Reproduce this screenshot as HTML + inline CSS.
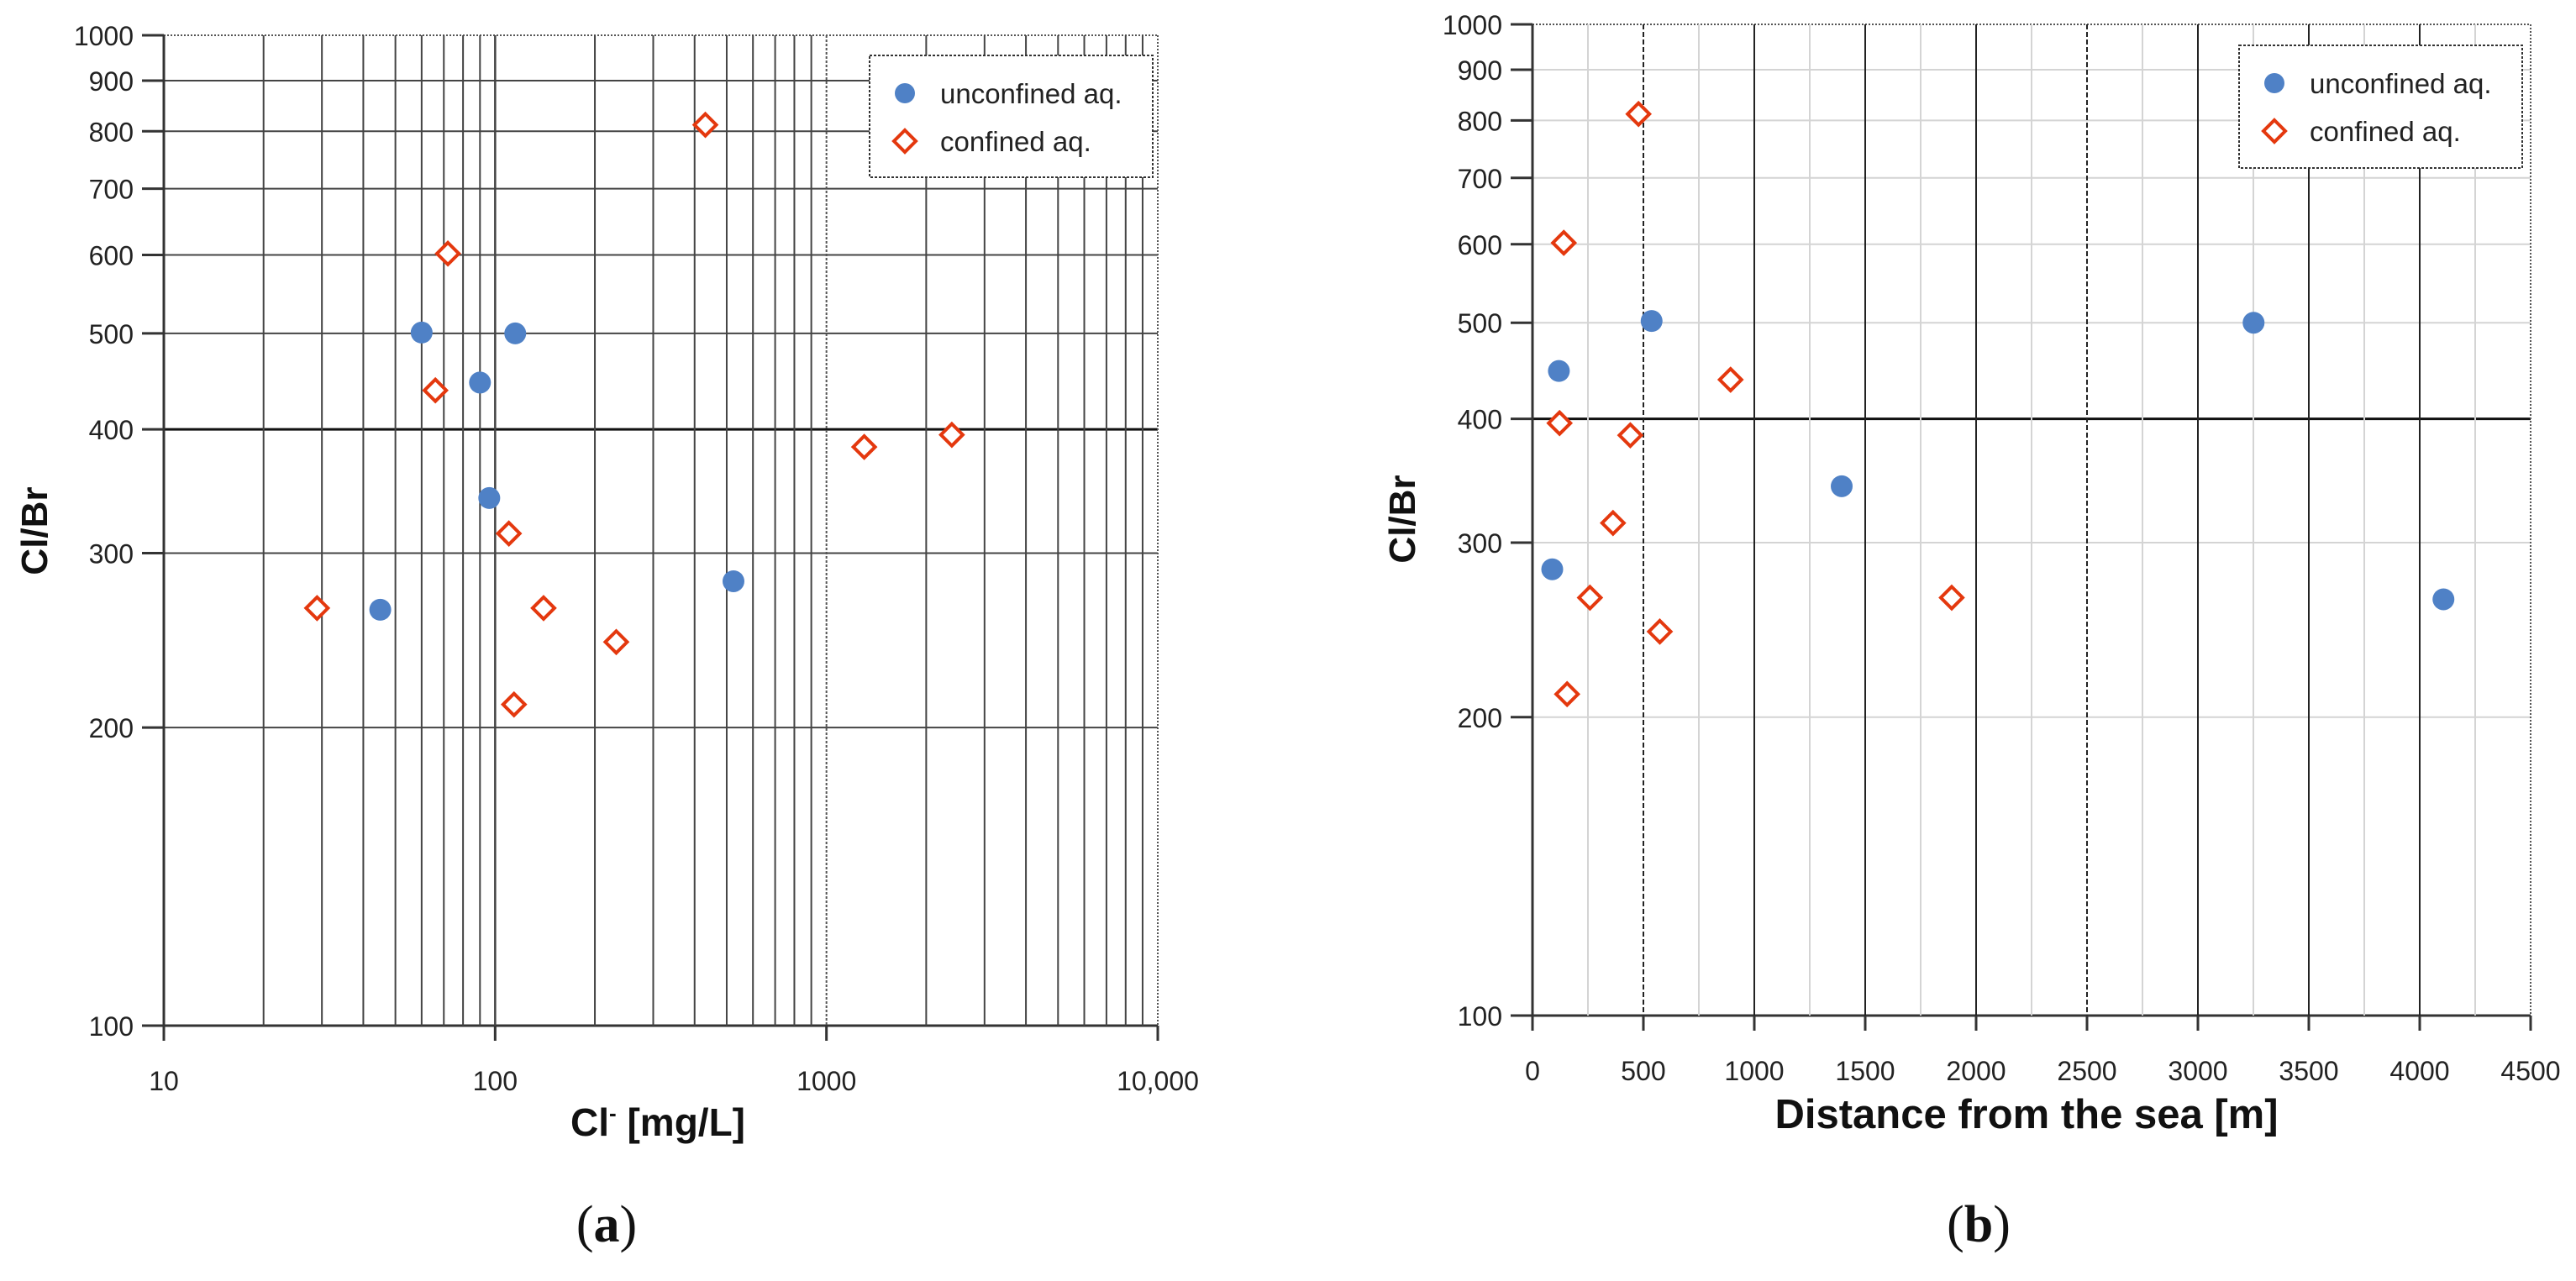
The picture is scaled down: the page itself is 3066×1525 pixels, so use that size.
<!DOCTYPE html>
<html><head><meta charset="utf-8"><style>
html,body{margin:0;padding:0;background:#fff}
svg{display:block}
text{font-family:"Liberation Sans",sans-serif}
</style></head><body>
<svg id="c" width="3066" height="1525" xmlns="http://www.w3.org/2000/svg"></svg>
<script>
// Panel (a) data
const aUnconfX = [60, 115, 90, 96, 45, 524];
const aUnconfY = [501, 500, 446, 341, 263, 281];
const aConfX = [431, 72, 66, 110, 29, 140, 232, 114, 1300, 2390];
const aConfY = [812, 602, 438, 314, 264, 264, 244, 211, 384, 395];
const aXTicks = ["10", "100", "1000", "10,000"];
// Panel (b) data
const bUnconfX = [537, 119, 1394, 89, 3251, 4107];
const bUnconfY = [502, 447, 342, 282, 500, 263];
const bConfX = [478, 141, 893, 122, 441, 363, 259, 1890, 574, 156];
const bConfY = [812, 602, 438, 396, 385, 314, 264, 264, 244, 211];
const bXTicks = [0, 500, 1000, 1500, 2000, 2500, 3000, 3500, 4000, 4500];
const yTicks = [100, 200, 300, 400, 500, 600, 700, 800, 900, 1000];

const svg = document.getElementById('c');
const NS = 'http://www.w3.org/2000/svg';
function mk(tag, attrs, parent) {
  const e = document.createElementNS(NS, tag);
  for (const k in attrs) e.setAttribute(k, attrs[k]);
  (parent || svg).appendChild(e);
  return e;
}
function txt(s, attrs, parent) { const t = mk('text', attrs, parent); t.textContent = s; return t; }

function panel(o) {
  const g = mk('g', {});
  
  
  const yS = v => o.y100 - (Math.log10(v) - 2) * (o.y100 - o.y1000);
  const xS = o.xS;
  yTicks.forEach(v => {
    const y = yS(v);
    let stroke = o.hGrid, w = 2;
    if (v === 400) { stroke = '#111'; w = 3; }
    if (v === 100) { stroke = '#333'; w = 3; }
    if (v === 1000) { mk('line', {x1: o.x0, x2: o.x1, y1: y, y2: y, stroke: '#555', 'stroke-width': 2, 'stroke-dasharray': '2,2'}, g); }
    else { const l = mk('line', {x1: o.x0, x2: o.x1, y1: y, y2: y, stroke, 'stroke-width': w}, g);
      
       }
    mk('line', {x1: o.x0 - 26, x2: o.x0, y1: y, y2: y, stroke: '#333', 'stroke-width': 3}, g);
    const t = txt(String(v), {x: o.x0 - 36, y: y + 12, 'font-size': 32, 'text-anchor': 'end', fill: '#222'}, g);
    
    
  });
  o.vGrid.forEach(vg => {
    const x = xS(vg.v);
    mk('line', {x1: x, x2: x, y1: o.y1000, y2: o.y100, stroke: vg.c, 'stroke-width': vg.w, 'stroke-dasharray': vg.d || 'none'}, g);
  });
  mk('line', {x1: o.x0, x2: o.x0, y1: o.y1000, y2: o.y100 + 18, stroke: '#333', 'stroke-width': 3}, g);
  mk('line', {x1: o.x1, x2: o.x1, y1: o.y1000, y2: o.y100, stroke: '#555', 'stroke-width': 2, 'stroke-dasharray': '2,2'}, g);
  o.xTickVals.forEach((v, i) => {
    const x = xS(v);
    mk('line', {x1: x, x2: x, y1: o.y100, y2: o.y100 + 18, stroke: '#333', 'stroke-width': 3}, g);
    const t = txt(String(o.xTickLabels[i]), {x: x, y: o.xLabY, 'font-size': 32, 'text-anchor': 'middle', fill: '#222'}, g);
    
    
  });
  o.ux.forEach((v, i) => {
    const c = mk('circle', {cx: xS(v), cy: yS(o.uy[i]), r: 13, fill: '#4f81c6'}, g);
    
    
  });
  o.cx.forEach((v, i) => {
    const x = xS(v), y = yS(o.cy[i]), s = 13;
    const p = mk('polygon', {points: `${x},${y-s} ${x+s},${y} ${x},${y+s} ${x-s},${y}`, fill: '#fff', stroke: '#e4380e', 'stroke-width': 4}, g);
    
    
  });
  const L = o.leg;
  const lg = mk('g', {}, g);
  
  
  mk('rect', {x: L.x, y: L.y, width: L.w, height: L.h, fill: '#fff', stroke: '#333', 'stroke-width': 2, 'stroke-dasharray': '3,2'}, lg);
  mk('circle', {cx: L.x + 42, cy: L.y + 45, r: 12, fill: '#4f81c6'}, lg);
  const lx = L.x + 42, ly = L.y + 102, s = 13;
  mk('polygon', {points: `${lx},${ly-s} ${lx+s},${ly} ${lx},${ly+s} ${lx-s},${ly}`, fill: '#fff', stroke: '#e4380e', 'stroke-width': 4}, lg);
  const t1 = txt('unconfined aq.', {x: L.x + 84, y: L.y + 57, 'font-size': 33, fill: '#222'}, lg);
  
  
  const t2 = txt('confined aq.', {x: L.x + 84, y: L.y + 114, 'font-size': 33, fill: '#222'}, lg);
  
  
  const yt = txt('Cl/Br', {x: 0, y: 0, 'font-size': 44, 'font-weight': 'bold', 'text-anchor': 'middle', fill: '#111', transform: `translate(${o.ytX},${o.ytY}) rotate(-90)`}, g);
  
  
  const xt = mk('text', {x: o.xtX, y: o.xtY, 'font-size': o.xtSize, 'font-weight': 'bold', 'text-anchor': 'middle', fill: '#111'}, g);
  xt.innerHTML = o.xTitle;
  
  
  const cap = txt('', {x: o.capX, y: 1478, 'font-size': 62, 'text-anchor': 'middle', fill: '#111', style: 'font-family:"Liberation Serif",serif'}, g);
  cap.innerHTML = o.cap;
  
  
}

const ax0 = 195, ax1 = 1378;
const aXS = v => ax0 + (Math.log10(v) - 1) * (ax1 - ax0) / 3;
const aV = [];
[10, 100, 1000].forEach(d => { for (let k = 2; k <= 9; k++) aV.push({v: d * k, c: '#444', w: 2}); });
aV.push({v: 100, c: '#444', w: 2.5});
aV.push({v: 1000, c: '#555', w: 2, d: '3,2'});
panel({name: 'panel-a-chart', x0: ax0, x1: ax1, y1000: 42, y100: 1221, xS: aXS, hGrid: '#444', vGrid: aV,
  xTickVals: [10, 100, 1000, 10000], xTickLabels: aXTicks, xLabY: 1298,
  ux: aUnconfX, uy: aUnconfY, cx: aConfX, cy: aConfY,
  leg: {x: 1035, y: 66, w: 337, h: 145}, ytX: 56, ytY: 632, xtX: 783, xtY: 1352, xtSize: 46,
  xTitle: 'Cl<tspan font-size="26" dy="-18">-</tspan><tspan dy="18"> [mg/L]</tspan>', cap: '(<tspan font-weight="bold">a</tspan>)', capX: 722});

const bx0 = 1824, bx1 = 3012;
const bXS = v => bx0 + v * (bx1 - bx0) / 4500;
const bV = [];
for (let v = 250; v < 4500; v += 250) {
  if (v % 500 !== 0) bV.push({v, c: '#d4d4d4', w: 2});
  else if (v === 500 || v === 2500) bV.push({v, c: '#222', w: 2, d: '6,3'});
  else bV.push({v, c: '#222', w: 2});
}
panel({name: 'panel-b-chart', x0: bx0, x1: bx1, y1000: 29, y100: 1209, xS: bXS, hGrid: '#d4d4d4', vGrid: bV,
  xTickVals: bXTicks, xTickLabels: bXTicks, xLabY: 1286,
  ux: bUnconfX, uy: bUnconfY, cx: bConfX, cy: bConfY,
  leg: {x: 2665, y: 54, w: 337, h: 146}, ytX: 1684, ytY: 618, xtX: 2412, xtY: 1343, xtSize: 49,
  xTitle: 'Distance from the sea [m]', cap: '(<tspan font-weight="bold">b</tspan>)', capX: 2355});
</script>
</body></html>
